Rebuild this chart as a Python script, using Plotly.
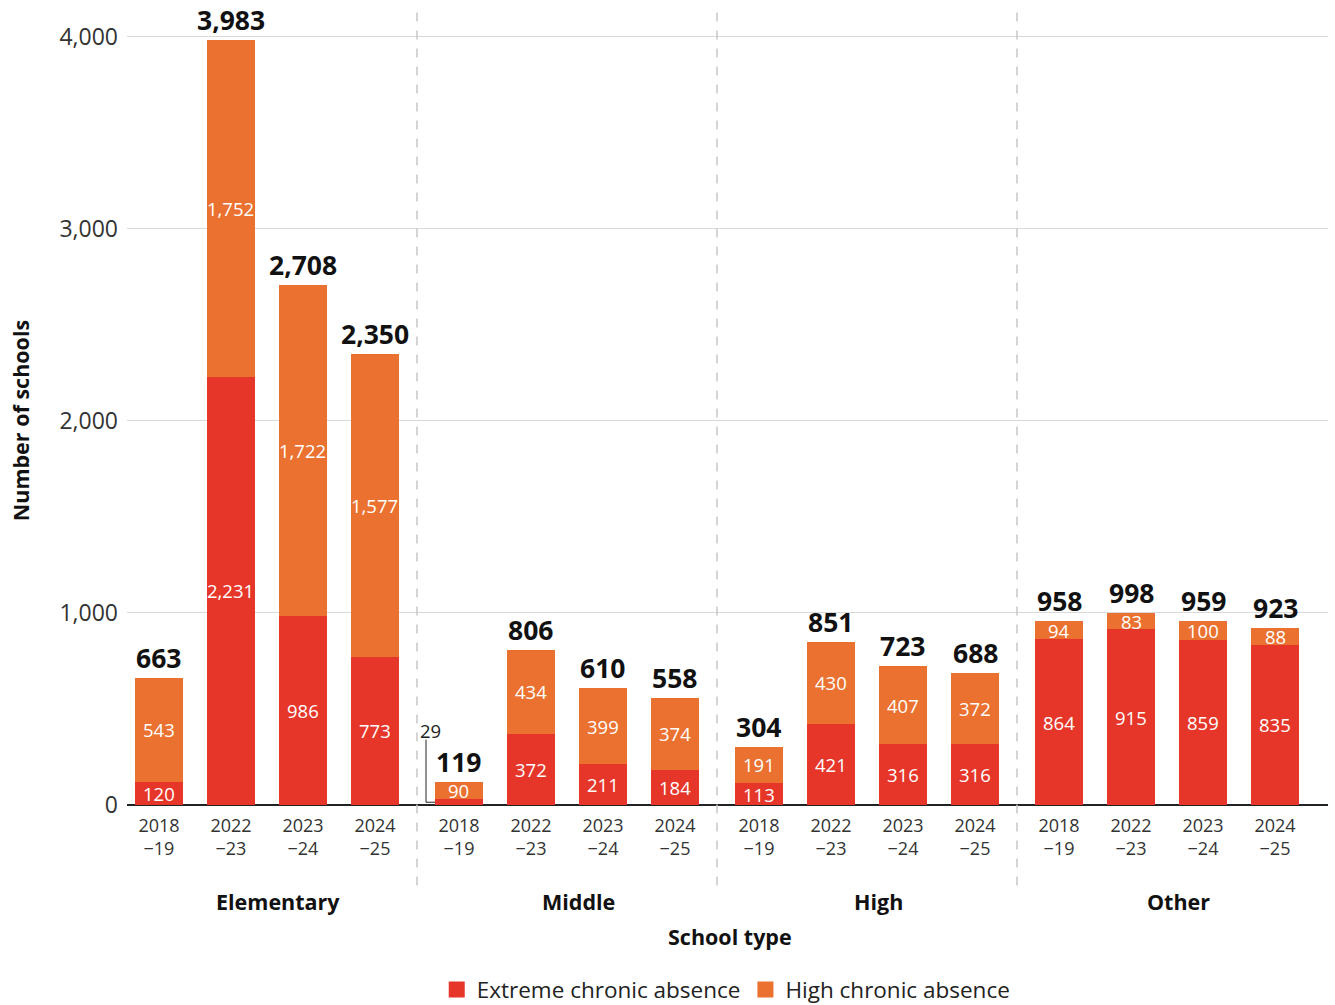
import plotly.graph_objects as go

# School types and school years
groups = ["Elementary", "Middle", "High", "Other"]
years = ["2018<br>−19", "2022<br>−23", "2023<br>−24", "2024<br>−25"]

# Number of schools by level of chronic absence (per group, per year)
extreme = [
    [120, 2231, 986, 773],
    [29, 372, 211, 184],
    [113, 421, 316, 316],
    [864, 915, 859, 835],
]
high = [
    [543, 1752, 1722, 1577],
    [90, 434, 399, 374],
    [191, 430, 407, 372],
    [94, 83, 100, 88],
]
series_names = ["Extreme chronic absence", "High chronic absence"]

RED = "#E6362A"
ORANGE = "#EB7130"
FONT = "Open Sans"

GROUP_STEP = 300 / 72  # spacing between group starts, in bar slots

xs, ext_vals, high_vals, tick_text = [], [], [], []
for g in range(len(groups)):
    for i in range(len(years)):
        xs.append(g * GROUP_STEP + i)
        ext_vals.append(extreme[g][i])
        high_vals.append(high[g][i])
        tick_text.append(years[i])

fig = go.Figure()
fig.add_trace(go.Bar(x=xs, y=ext_vals, name=series_names[0], showlegend=False,
                     marker=dict(color=RED, line=dict(width=0)), width=0.667))
fig.add_trace(go.Bar(x=xs, y=high_vals, name=series_names[1], showlegend=False,
                     marker=dict(color=ORANGE, line=dict(width=0)), width=0.667))
# legend entries with larger square swatches
for name, color in zip(series_names, [RED, ORANGE]):
    fig.add_trace(go.Scatter(x=[None], y=[None], mode="markers", name=name,
                             marker=dict(symbol="square", size=17, color=color)))

annotations = []
for x, e, h in zip(xs, ext_vals, high_vals):
    total = e + h
    # totals above the stacks
    annotations.append(dict(x=x, y=total, text=f"<b>{total:,}</b>", showarrow=False,
                            yanchor="bottom", yshift=0,
                            font=dict(family=FONT, size=26.5, color="#111")))
    # segment values
    if e >= 60:
        annotations.append(dict(x=x, y=e / 2, text=f"{e:,}", showarrow=False,
                                font=dict(family=FONT, size=18.5, color="white")))
    annotations.append(dict(x=x, y=e + h / 2, text=f"{h:,}", showarrow=False,
                            font=dict(family=FONT, size=18.5, color="white")))

# small extreme segment labelled outside with a bracket
small_x = GROUP_STEP
small_e = extreme[1][0]
annotations.append(dict(x=small_x - 0.39, y=390, text=f"{small_e}", showarrow=False,
                        font=dict(family=FONT, size=18.5, color="#222")))

shapes = [
    dict(type="line", xref="x", yref="y", x0=small_x - 0.458, x1=small_x - 0.458,
         y0=340, y1=small_e / 2, line=dict(color="#222", width=1)),
    dict(type="line", xref="x", yref="y", x0=small_x - 0.458, x1=small_x - 0.333,
         y0=small_e / 2, y1=small_e / 2, line=dict(color="#222", width=1)),
]
# dashed separators between school types
for g in range(1, len(groups)):
    sx = (g - 1) * GROUP_STEP + 3 + (GROUP_STEP - 3) / 2
    shapes.append(dict(type="line", xref="x", yref="paper", x0=sx, x1=sx,
                       y0=0.997, y1=-0.105, line=dict(color="#c8c8c8", width=1.5, dash="dash")))

# school type labels under the year ticks
for g, name in enumerate(groups):
    annotations.append(dict(x=g * GROUP_STEP + 1.653, xref="x", y=-0.121, yref="paper",
                            text=f"<b>{name}</b>", showarrow=False, yanchor="middle",
                            font=dict(family=FONT, size=21.5, color="#111")))
annotations.append(dict(x=0.502, xref="paper", y=-0.166, yref="paper",
                        text="<b>School type</b>", showarrow=False, yanchor="middle",
                        font=dict(family=FONT, size=21.5, color="#111")))
# y-axis title
annotations.append(dict(x=-0.0891, xref="paper", y=0.484, yref="paper",
                        text="<b>Number of schools</b>", showarrow=False, textangle=-90,
                        xanchor="center", yanchor="middle",
                        font=dict(family=FONT, size=21.5, color="#111")))

fig.update_layout(
    barmode="stack",
    width=1335, height=1005,
    margin=dict(l=127, r=7, t=10, b=200, autoexpand=False),
    plot_bgcolor="white", paper_bgcolor="white",
    font=dict(family=FONT, color="#333"),
    showlegend=True,
    legend=dict(orientation="h", x=0.544, xanchor="center", xref="container",
                y=0.015, yanchor="middle", yref="container",
                font=dict(family=FONT, size=22.5, color="#222"), traceorder="normal",
                itemwidth=30),
    annotations=annotations,
    shapes=shapes,
    xaxis=dict(range=[-0.444, 16.236], tickmode="array", tickvals=xs, ticktext=tick_text,
               tickfont=dict(family=FONT, size=18, color="#333"), showgrid=False,
               zeroline=False, showline=False, ticks="", ticklabelstandoff=8,
               automargin=False),
    yaxis=dict(range=[0, 4140], tickvals=[0, 1000, 2000, 3000, 4000],
               tickformat=",", tickfont=dict(family=FONT, size=23, color="#333"),
               gridcolor="#d9d9d9", gridwidth=1, zeroline=True, zerolinecolor="#222",
               zerolinewidth=1.5, ticks="", ticklabelstandoff=8, automargin=False),
)

fig.write_html("out.html")
